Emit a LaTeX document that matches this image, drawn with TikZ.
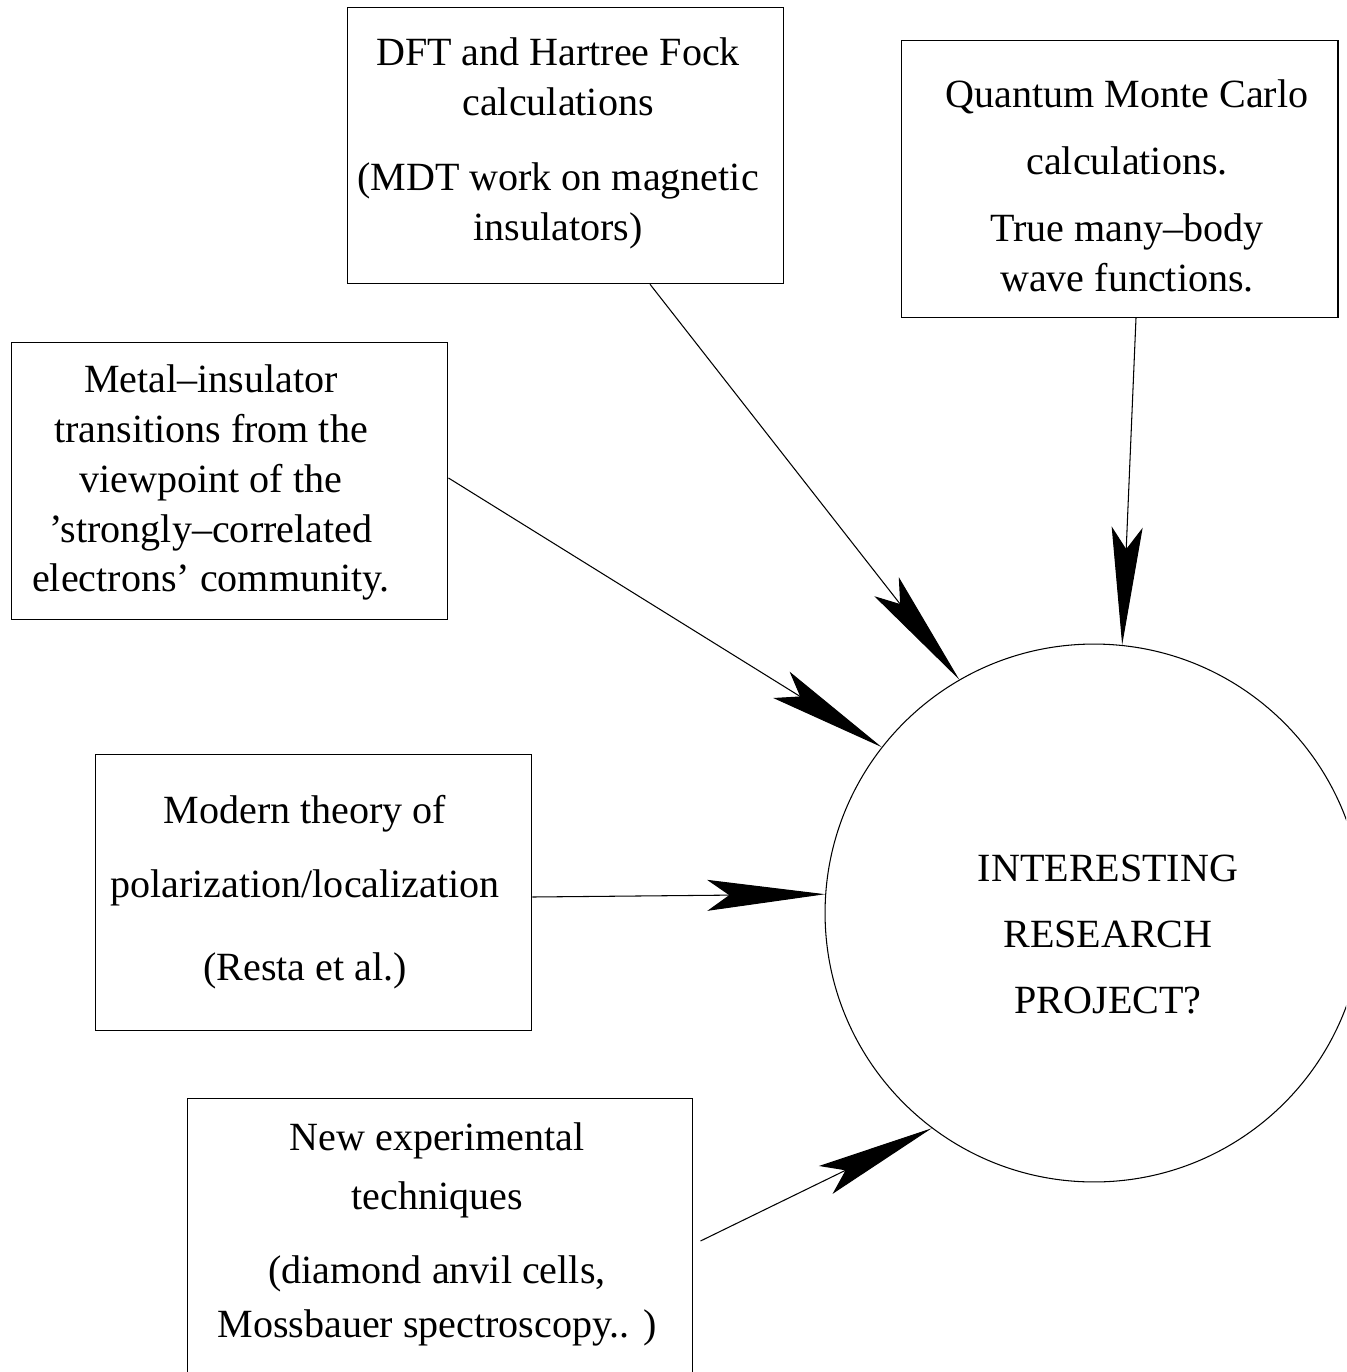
\documentclass[tikz,border=0pt]{standalone}
\usepackage{fontspec}
\setmainfont{Liberation Serif}
\usepackage{tikz}
\usetikzlibrary{arrows.meta,calc}

\begin{document}
\begin{tikzpicture}[x=0.02cm, y=-0.02cm,
                    box/.style={draw, line width=0.6pt, inner sep=0pt,
                                minimum width=8.74cm, minimum height=5.53cm},
                    txt/.style={anchor=north, align=center, inner sep=0pt,
                                font=\fontsize{22.8}{28.35}\selectfont},
                    feed/.style={line width=0.6pt,
                                 -{Stealth[length=2.36cm, width=0.62cm, inset=0.44cm]}}]
  \useasboundingbox (0,0) rectangle (1346,1372);
  \clip (0,0) rectangle (1346,1372);

  % the inputs
  \node[box] (dft) at (565.5,145.5) {};
  \node[txt] (dfttext) at (558,37.5)
    {DFT and Hartree Fock\\ calculations\\[14.2pt]
     (MDT work on magnetic\\ insulators)};

  \node[box] (qmc) at (1119.5,179) {};
  \node[txt] (qmctext) at (1127,79.5)
    {Quantum Monte Carlo\\[9.6pt] calculations.\\[9.6pt]
     True many–body\\[0.6pt] wave functions.};

  \node[box] (metal) at (229.5,481) {};
  \node[txt] (metaltext) at (211,364.5)
    {Metal–insulator\\ transitions from the\\ viewpoint of the\\
     ’strongly–correlated\\ electrons’ community.};

  \node[box] (modern) at (313.5,892.5) {};
  \node[txt] (moderntext) at (305,794.5)
    {Modern theory of\\[14.2pt] polarization/localization\\[18.7pt]
     (Resta et al.)};

  \node[box, minimum width=10.12cm] (newexp) at (440,1237) {};
  \node[txt] (newexptext) at (437,1122.5)
    {New experimental\\[5.1pt] techniques\\[13.6pt]
     (diamond anvil cells,\\[2.8pt] Mossbauer spectroscopy.. )};

  % the goal
  \node[circle, draw, line width=0.6pt, minimum size=10.76cm] (project) at (1094,913) {};
  \node[txt] (projecttext) at (1108,854.4)
    {INTERESTING\\[9.6pt] RESEARCH\\[9.1pt] PROJECT?};

  % arrows into the circle
  \draw[feed] ($(dft.south)+(84.5,0)$) -- (project.120);
  \draw[feed] ($(qmc.south)+(16.5,0)$) -- (project.84.7);
  \draw[feed] ($(metal.east)+(0,-3)$) -- (project.142.7);
  \draw[feed] ($(modern.east)+(0,4.5)$) -- (project.176.6);
  \draw[feed] ($(newexp.east)+(7,4)$) -- (project.233.6);
\end{tikzpicture}
\end{document}
